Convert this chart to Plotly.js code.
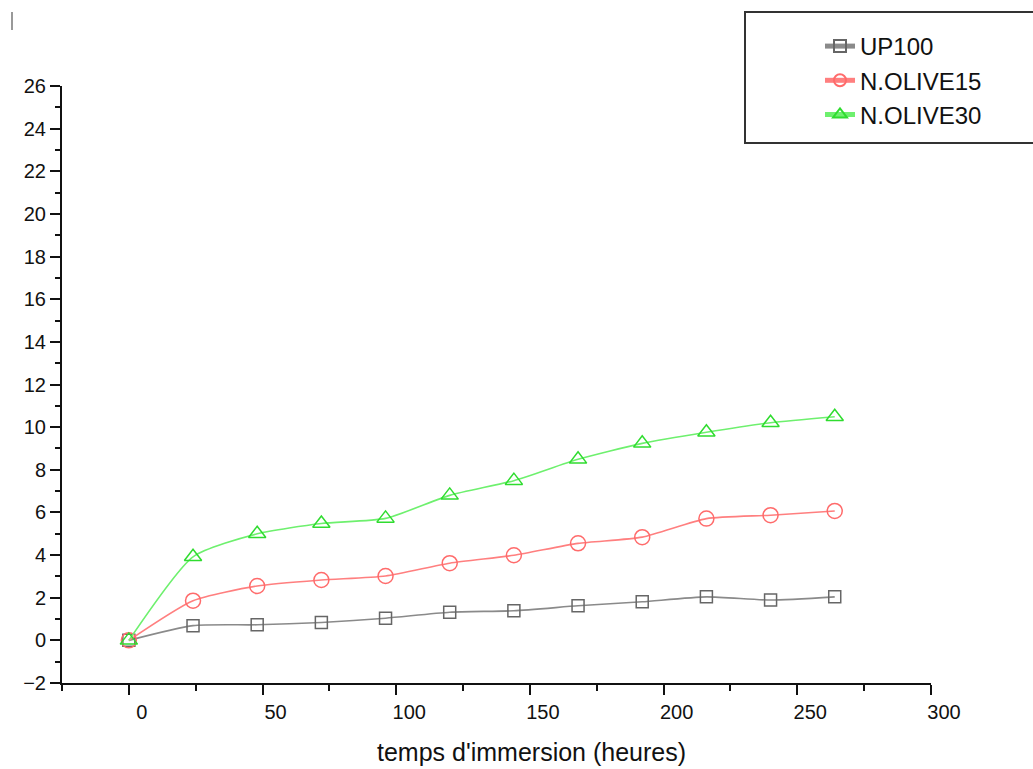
<!DOCTYPE html>
<html>
<head>
<meta charset="utf-8">
<script src="https://cdn.plot.ly/plotly-3.0.1.min.js"></script>
<style>html,body{margin:0;padding:0;background:#fff;}#chart{width:1033px;height:769px;}</style>
</head>
<body>
<div id="chart"></div>
<script>
// Data
const hours = [0, 24, 48, 72, 96, 120, 144, 168, 192, 216, 240, 264];
const up100 = [0, 0.69, 0.73, 0.84, 1.04, 1.32, 1.39, 1.62, 1.81, 2.04, 1.89, 2.04];
const olive15 = [0, 1.86, 2.55, 2.83, 3.02, 3.62, 3.99, 4.55, 4.84, 5.71, 5.87, 6.07];
const olive30 = [0, 3.92, 5.0, 5.48, 5.72, 6.8, 7.49, 8.49, 9.24, 9.76, 10.21, 10.49];
const seriesNames = ["UP100", "N.OLIVE15", "N.OLIVE30"];
const xTitle = "temps d'immersion (heures)";

const font = "Arial, 'Liberation Sans', sans-serif";

const traces = [
  {x: hours, y: up100, name: seriesNames[0], mode: 'lines+markers',
   line: {color: '#8a8a8a', width: 1.6, shape: 'spline', smoothing: 0.6},
   marker: {symbol: 'square-open', size: 12, color: '#666666', line: {width: 1.5}}},
  {x: hours, y: olive15, name: seriesNames[1], mode: 'lines+markers',
   line: {color: '#ff7f7f', width: 1.6, shape: 'spline', smoothing: 0.6},
   marker: {symbol: 'circle-open', size: 15, color: '#ff6b6b', line: {width: 1.5}}},
  {x: hours, y: olive30, name: seriesNames[2], mode: 'lines+markers',
   line: {color: '#6ef06e', width: 1.6, shape: 'spline', smoothing: 0.6},
   marker: {symbol: 'triangle-up-open', size: 15, color: '#2fdc2f', line: {width: 1.5}}}
];

const L = 62, R = 931, T = 86, B = 683;
const W = R - L, H = B - T;
const px = v => (v - L) / W;
const py = v => (B - v) / H;

const layout = {
  width: 1033, height: 769,
  margin: {l: L, r: 1033 - R, t: T, b: 769 - B},
  paper_bgcolor: '#ffffff', plot_bgcolor: '#ffffff',
  font: {family: font, color: '#111111'},
  showlegend: true,
  legend: {
    x: px(820), y: py(24), xanchor: 'left', yanchor: 'top',
    bgcolor: 'rgba(0,0,0,0)', borderwidth: 0,
    font: {family: font, size: 24, color: '#111111'},
    itemsizing: 'constant'
  },
  xaxis: {
    range: [-25, 300], tickvals: [0, 50, 100, 150, 200, 250, 300],
    ticks: 'outside', ticklen: 10, tickwidth: 2, tickcolor: '#111',
    showline: true, linewidth: 2, linecolor: '#111', showgrid: false, zeroline: false,
    tickfont: {family: font, size: 20, color: '#111'}, ticklabelshift: 13,
    minor: {dtick: 25, tick0: 0, ticks: 'outside', ticklen: 6, tickwidth: 2, tickcolor: '#111', showgrid: false}
  },
  yaxis: {
    range: [-2, 26], dtick: 2, tick0: 0,
    ticks: 'outside', ticklen: 10, tickwidth: 2, tickcolor: '#111',
    showline: true, linewidth: 2, linecolor: '#111', showgrid: false, zeroline: false,
    tickfont: {family: font, size: 20, color: '#111'},
    minor: {dtick: 1, ticks: 'outside', ticklen: 5, tickwidth: 2, tickcolor: '#111', showgrid: false}
  },
  shapes: [
    {type: 'rect', xref: 'paper', yref: 'paper', x0: px(745), x1: px(1045), y0: py(143), y1: py(12),
     line: {color: '#333333', width: 2}, fillcolor: 'rgba(0,0,0,0)'},
    {type: 'line', xref: 'paper', yref: 'paper', x0: px(12), x1: px(12), y0: py(12), y1: py(30),
     line: {color: '#999999', width: 2}}
  ],
  annotations: [
    {text: xTitle, xref: 'paper', yref: 'paper', x: px(531), y: py(752),
     xanchor: 'center', yanchor: 'middle', showarrow: false,
     font: {family: font, size: 25, color: '#111'}}
  ]
};

Plotly.newPlot('chart', traces, layout, {displayModeBar: false, staticPlot: true});
</script>
</body>
</html>
